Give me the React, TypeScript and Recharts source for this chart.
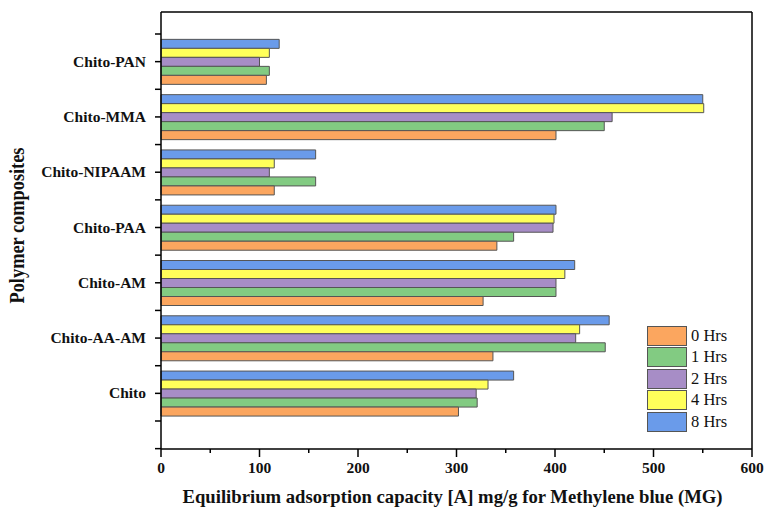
import { BarChart, Bar, XAxis, YAxis, Label } from "recharts";

const composites = ["Chito-PAN", "Chito-MMA", "Chito-NIPAAM", "Chito-PAA", "Chito-AM", "Chito-AA-AM", "Chito"];

const hrs0 = [107, 401, 115, 341, 327, 337, 302];
const hrs1 = [110, 450, 157, 358, 401, 451, 321];
const hrs2 = [100, 458, 110, 398, 401, 421, 320];
const hrs4 = [110, 551, 115, 399, 410, 425, 332];
const hrs8 = [120, 550, 157, 401, 420, 455, 358];

const xTicks = [0, 50, 100, 150, 200, 250, 300, 350, 400, 450, 500, 550, 600];

const series = [
  { key: "h0", name: "0 Hrs", color: "#FBA65F", values: hrs0 },
  { key: "h1", name: "1 Hrs", color: "#82CB82", values: hrs1 },
  { key: "h2", name: "2 Hrs", color: "#A78DC6", values: hrs2 },
  { key: "h4", name: "4 Hrs", color: "#FFFF5A", values: hrs4 },
  { key: "h8", name: "8 Hrs", color: "#6A9BEA", values: hrs8 },
];

const data = composites.map((name, i) => {
  const row: Record<string, string | number> = { name };
  series.forEach((s) => (row[s.key] = s.values[i]));
  return row;
});

const font = "'Liberation Serif', 'Times New Roman', serif";

function YTick(props: any) {
  const { x, y, payload, index, visibleTicksCount } = props;
  const half = payload.offset || 0;
  const ax = x + 15;
  const marks = [y, y + half];
  if (index === 0) marks.push(y - half);
  if (index === visibleTicksCount - 1) marks.push(y + half * 2);
  return (
    <g>
      {marks.map((m, i) => (
        <line key={i} x1={ax - 6} x2={ax} y1={m} y2={m} stroke="#000" strokeWidth={1.5} />
      ))}
      <text x={x} y={y + 5} textAnchor="end" fontFamily={font} fontWeight="bold" fontSize={15.5} fill="#111">
        {payload.value}
      </text>
    </g>
  );
}

function XTick(props: any) {
  const { x, y, payload } = props;
  const major = payload.value % 100 === 0;
  const ay = y - 12;
  return (
    <g>
      <line x1={x} x2={x} y1={ay} y2={ay + (major ? 8 : 4)} stroke="#000" strokeWidth={1.5} />
      {major && (
        <text x={x} y={y + 12} textAnchor="middle" fontFamily={font} fontWeight="bold" fontSize={15.5} fill="#111">
          {payload.value}
        </text>
      )}
    </g>
  );
}

function LegendBox() {
  return (
    <div style={{ position: "absolute", left: 647, top: 325 }}>
      {series.map((s) => (
        <div key={s.key} style={{ display: "flex", alignItems: "center", height: 21.5 }}>
          <div style={{ width: 38, height: 18, background: s.color, border: "1px solid #555" }} />
          <span style={{ marginLeft: 4, fontFamily: font, fontSize: 16.5, color: "#111" }}>{s.name}</span>
        </div>
      ))}
    </div>
  );
}

export default function App() {
  return (
    <div style={{ position: "absolute", left: 0, top: 0, width: 766, height: 509, background: "#fff" }}>
      <BarChart
        width={766}
        height={509}
        data={data}
        layout="vertical"
        margin={{ top: 11, right: 13, left: 0, bottom: 0 }}
        barCategoryGap="9.7%"
        barGap={0}
      >
        <XAxis
          type="number"
          domain={[0, 600]}
          ticks={xTicks}
          height={60}
          tickSize={8}
          tickMargin={4}
          tickLine={false}
          tick={<XTick />}
          axisLine={{ stroke: "#000", strokeWidth: 1.5 }}
          interval={0}
        >
          <Label
            content={({ viewBox }: any) => (
              <text
                x={viewBox.x + viewBox.width / 2 - 4}
                y={viewBox.y + 54}
                textAnchor="middle"
                fontFamily={font}
                fontWeight="bold"
                fontSize={18.5}
                textLength={540}
                lengthAdjust="spacingAndGlyphs"
                fill="#111"
              >
                Equilibrium adsorption capacity [A] mg/g for Methylene blue (MG)
              </text>
            )}
          />
        </XAxis>
        <XAxis
          xAxisId="top"
          orientation="top"
          type="number"
          domain={[0, 600]}
          height={1}
          tick={false}
          tickLine={false}
          axisLine={{ stroke: "#000", strokeWidth: 1.5 }}
        />
        <YAxis
          type="category"
          dataKey="name"
          width={161}
          tickSize={6}
          tickMargin={9}
          tickLine={false}
          tick={<YTick />}
          axisLine={{ stroke: "#000", strokeWidth: 1.5 }}
          padding={{ top: 22, bottom: 28 }}
          interval={0}
        >
          <Label
            content={({ viewBox }: any) => {
              const cx = viewBox.x + 24;
              const cy = viewBox.y + viewBox.height / 2 - 5;
              return (
                <text
                  x={cx}
                  y={cy}
                  transform={`rotate(-90 ${cx} ${cy})`}
                  textAnchor="middle"
                  fontFamily={font}
                  fontWeight="bold"
                  fontSize={20}
                  textLength={156}
                  lengthAdjust="spacingAndGlyphs"
                  fill="#111"
                >
                  Polymer composites
                </text>
              );
            }}
          />
        </YAxis>
        <YAxis
          yAxisId="right"
          orientation="right"
          type="category"
          dataKey="name"
          width={1}
          tick={false}
          tickLine={false}
          axisLine={{ stroke: "#000", strokeWidth: 1.5 }}
        />
        {[...series].reverse().map((s) => (
          <Bar
            key={s.key}
            dataKey={s.key}
            name={s.name}
            fill={s.color}
            stroke="#555"
            strokeWidth={1}
            isAnimationActive={false}
          />
        ))}
      </BarChart>
      <LegendBox />
    </div>
  );
}
